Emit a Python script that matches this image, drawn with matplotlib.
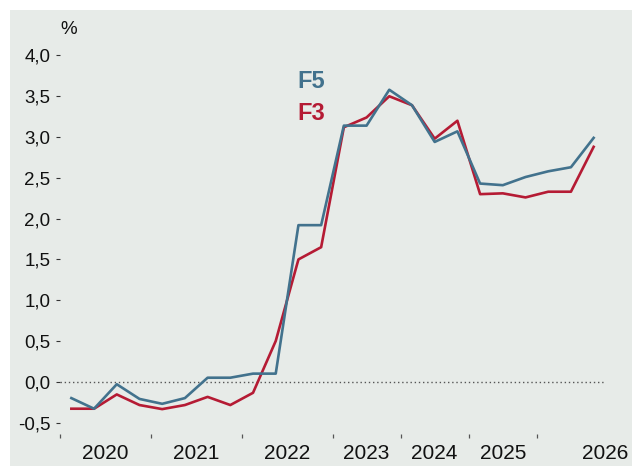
import matplotlib.pyplot as plt
from matplotlib.patches import Rectangle
from matplotlib.ticker import FuncFormatter

plt.rcParams['font.family'] = ['Liberation Sans', 'DejaVu Sans']

# ---- Data ----
f5 = [-0.20, -0.33, -0.03, -0.21, -0.27, -0.20, 0.05, 0.05, 0.10, 0.10,
      1.92, 1.92, 3.14, 3.14, 3.58, 3.39, 2.94, 3.07, 2.43, 2.41,
      2.51, 2.58, 2.63, 2.99]
f3 = [-0.33, -0.33, -0.155, -0.285, -0.335, -0.285, -0.185, -0.285, -0.135, 0.50,
      1.50, 1.65, 3.12, 3.24, 3.50, 3.39, 2.98, 3.20, 2.30, 2.31,
      2.26, 2.33, 2.33, 2.88]
years = ['2020', '2021', '2022', '2023', '2024', '2025', '2026']
year_pos = [1.5, 5.5, 9.5, 13, 16, 19, 23.5]
year_breaks = [-0.5, 3.5, 7.5, 11.5, 14.5, 17.5, 20.5]
yticks = [-0.5, 0.0, 0.5, 1.0, 1.5, 2.0, 2.5, 3.0, 3.5, 4.0]

BG = '#e7ebe8'
BLUE = '#42728d'
RED = '#b51b34'

fig = plt.figure(figsize=(6.32, 4.66), dpi=100, facecolor='white')
# grey panel, leaving a thin white strip on the top and left
fig.patches.append(Rectangle((10/632, 0), 1, 456/466, transform=fig.transFigure,
                             facecolor=BG, edgecolor='none', zorder=-10))

ax = fig.add_axes([60/632, 32/466, 545/632, 403/466])
ax.set_zorder(1)
ax.set_facecolor('none')
for s in ax.spines.values():
    s.set_visible(False)

x = list(range(len(f5)))
ax.plot(x, f3, color=RED, lw=1.9, zorder=3)
ax.plot(x, f5, color=BLUE, lw=1.9, zorder=4)
ax.axhline(0, color='#555555', lw=1.0, ls=(0, (1, 2)), zorder=2)

ax.set_xlim(-0.5, 23.5)
ax.set_ylim(-0.64, 4.3)

ax.set_yticks(yticks)
ax.yaxis.set_major_formatter(FuncFormatter(lambda v, p: f'{v:.1f}'.replace('.', ',')))
ax.tick_params(axis='y', length=3, width=0.8, color='#333333', pad=4,
               labelsize=13.5, labelcolor='#111111')

# year boundaries as ticks, year names centred between them
ax.set_xticks(year_breaks)
ax.set_xticklabels([])
ax.set_xticks(year_pos, minor=True)
ax.set_xticklabels(years, minor=True)
ax.tick_params(axis='x', which='major', length=3, width=0.9, color='#555555', direction='out')
ax.tick_params(axis='x', which='minor', length=0, pad=7, labelsize=15, labelcolor='#111111')

fig.text(69/632, 1 - 30/466, '%', ha='center', va='center', fontsize=13.5, color='#111111')

ax.text(10.55, 3.68, 'F5', color=BLUE, fontsize=17, fontweight='bold', ha='center', va='center')
ax.text(10.55, 3.29, 'F3', color=RED, fontsize=17, fontweight='bold', ha='center', va='center')

fig.savefig('out.png', dpi=100, facecolor=fig.get_facecolor())
